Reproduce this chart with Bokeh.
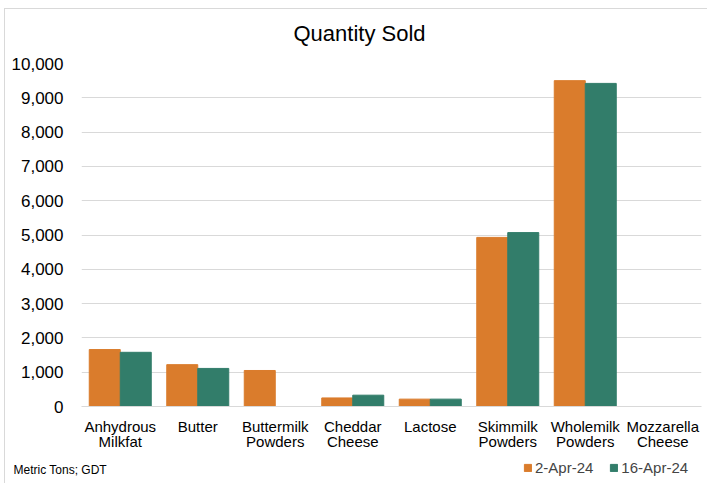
from bokeh.plotting import figure
from bokeh.layouts import column
from bokeh.models import (ColumnDataSource, FactorRange, Range1d, Legend, LegendItem,
                          NumeralTickFormatter, Label, FixedTicker)
from bokeh.transform import dodge
from bokeh.embed import file_html
from bokeh.resources import INLINE

categories = ["Anhydrous\nMilkfat", "Butter", "Buttermilk\nPowders", "Cheddar\nCheese", "Lactose",
              "Skimmilk\nPowders", "Wholemilk\nPowders", "Mozzarella\nCheese"]
apr2 = [1660, 1220, 1050, 250, 215, 4930, 9500, 0]
apr16 = [1580, 1110, 0, 330, 215, 5070, 9420, 0]
series_labels = ["2-Apr-24", "16-Apr-24"]
yticks = list(range(0, 10001, 1000))

FONT = "Liberation Sans"
ORANGE = "#DA7C2C"
GREEN = "#327D6A"

src = ColumnDataSource(dict(cat=categories, a=apr2, b=apr16))
xr = FactorRange(*categories)


def strip(h):
    f = figure(width=703, height=h, x_range=xr, y_range=Range1d(20000, 30000),
               output_backend="svg", toolbar_location=None, x_axis_type=None, y_axis_type=None,
               min_border_left=0, min_border_right=0, min_border_top=0, min_border_bottom=0)
    f.frame_align = False
    f.outline_line_color = None
    f.xgrid.grid_line_color = None
    f.ygrid.grid_line_color = None
    return f


# title strip
p0 = strip(44)
p0.add_layout(Label(x=354, y=20, x_units="screen", y_units="screen", text="Quantity Sold",
                    text_font=FONT, text_font_size="22px", text_color="#000000",
                    text_align="center", text_baseline="middle"))

# main chart
p = figure(width=703, height=405, x_range=xr, y_range=Range1d(0, 10000),
           output_backend="svg", toolbar_location=None,
           min_border_left=76, min_border_right=7, min_border_top=10, min_border_bottom=52)
p.frame_align = False

r1 = p.vbar(x=dodge("cat", -0.2, range=xr), top="a", width=0.4, source=src,
            fill_color=ORANGE, line_color=ORANGE)
r2 = p.vbar(x=dodge("cat", 0.2, range=xr), top="b", width=0.4, source=src,
            fill_color=GREEN, line_color=GREEN)

p.outline_line_color = None
p.xgrid.grid_line_color = None
p.ygrid.grid_line_color = "#d9d9d9"
p.ygrid.grid_line_width = 1

p.yaxis.ticker = FixedTicker(ticks=yticks)
p.yaxis.formatter = NumeralTickFormatter(format="0,0")
p.yaxis.axis_line_color = None
p.yaxis.major_tick_line_color = None
p.yaxis.minor_tick_line_color = None
p.yaxis.major_label_text_font = FONT
p.yaxis.major_label_text_font_size = "17px"
p.yaxis.major_label_text_color = "#000000"
p.yaxis.major_label_standoff = 12

p.xaxis.axis_line_color = "#d9d9d9"
p.xaxis.major_tick_line_color = None
p.xaxis.minor_tick_line_color = None
p.xaxis.major_label_text_font = FONT
p.xaxis.major_label_text_font_size = "15px"
p.xaxis.major_label_text_line_height = 0.9
p.xaxis.major_label_text_color = "#000000"
p.xaxis.major_label_standoff = 5

# footer strip with note and legend (bars drawn far outside its visible range)
p2 = strip(26)
d1 = p2.vbar(x=dodge("cat", -0.2, range=xr), top="a", width=0.4, source=src,
             fill_color=ORANGE, line_color=ORANGE)
d2 = p2.vbar(x=dodge("cat", 0.2, range=xr), top="b", width=0.4, source=src,
             fill_color=GREEN, line_color=GREEN)

legend = Legend(items=[LegendItem(label=series_labels[0], renderers=[d1], index=0),
                       LegendItem(label=series_labels[1], renderers=[d2], index=0)],
                orientation="horizontal", location=(518, 8), label_text_font=FONT,
                label_text_font_size="15px", glyph_width=9, glyph_height=9,
                label_standoff=3, spacing=16, border_line_color=None, background_fill_alpha=0,
                padding=2, margin=0)
p2.add_layout(legend, "center")

note = Label(x=8, y=15, x_units="screen", y_units="screen", text="Metric Tons; GDT",
             text_font=FONT, text_font_size="12px", text_color="#000000", text_baseline="middle")
p2.add_layout(note)

layout = column(p0, p, p2, spacing=0)
layout.margin = (8, 0, 0, 4)
layout.styles = {"border-left": "1px solid #d9d9d9", "border-top": "1px solid #d9d9d9"}

open("out.html", "w").write(file_html(layout, INLINE))
